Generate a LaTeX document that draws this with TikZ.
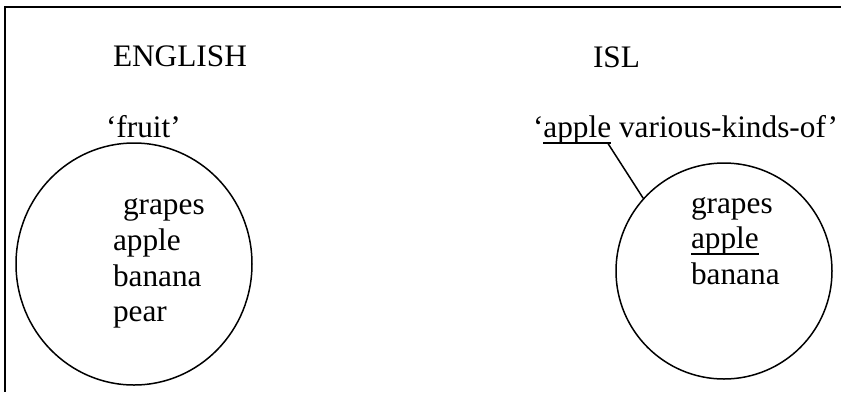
\documentclass[tikz,border=0pt]{standalone}
\usepackage{fontspec}
\setmainfont{Liberation Serif}
\usetikzlibrary{shapes.geometric}
\newcommand\myul[1]{\setbox0\hbox{#1}\rlap{\rule[-6.5pt]{\wd0}{1.5pt}}\box0\relax}
\tikzset{
  txt/.style={anchor=base west, inner sep=0pt, outer sep=0pt, font=\fontsize{31.3}{36}\selectfont},
  ring/.style={draw, ellipse, line width=1.5pt, inner sep=0pt},
  ln/.style={line width=1.5pt}
}
\begin{document}
\begin{tikzpicture}[x=1pt,y=-1pt]
\useasboundingbox (0,0) rectangle (841,392);
% frame
\coordinate (ftl) at (5,7);
\coordinate (ftr) at (841,7);
\coordinate (fbl) at (5,392);
\draw[ln] (ftr) -- (ftl) -- (fbl);
% headings
\node[txt] (eng) at (113,66) {ENGLISH};
\node[txt] (isl) at (593,67) {ISL};
% glosses
\node[txt] (fruit) at (106,137) {‘fruit’};
\node[txt] (gloss) at (533,137) {‘\myul{apple} various-kinds-of’};
% circles
\node[ring, minimum width=236pt, minimum height=242pt] (lc) at (134,264) {};
\node[ring, minimum width=216pt, minimum height=216pt] (rc) at (724,271) {};
% left list
\node[txt] (l1) at (113,214) {\hspace{10pt}grapes};
\node[txt] (l2) at (113,250) {apple};
\node[txt] (l3) at (113,286) {banana};
\node[txt] (l4) at (113,321) {pear};
% right list
\node[txt] (r1) at (691,213) {grapes};
\node[txt] (r2) at (691,248) {\myul{apple}};
\node[txt] (r3) at (691,284) {banana};
% connector
\coordinate (ulend) at (608,143.5);
\draw[ln] (ulend) -- (rc.138);
\end{tikzpicture}
\end{document}
